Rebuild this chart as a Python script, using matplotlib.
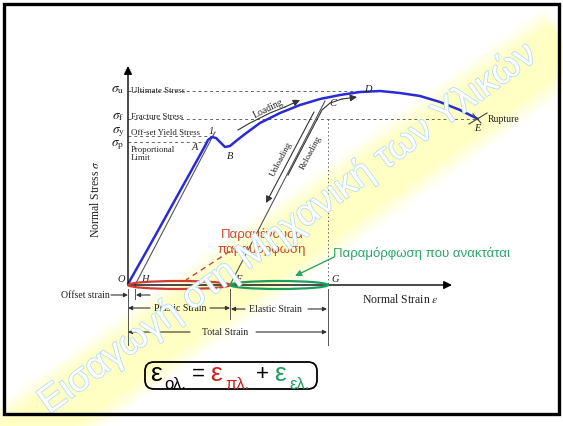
import numpy as np
import matplotlib
matplotlib.use('Agg')
import matplotlib.pyplot as plt
from matplotlib.patches import Ellipse, FancyBboxPatch, Rectangle
import matplotlib.patheffects as pe

# everything below is in pixel units of the original slide (x right, y down)
W, H = 563, 427

# stress-strain curve O -> A -> 1 -> B -> C -> D -> E
curve_x = [128, 150, 170, 190, 205, 208, 212, 216, 220, 225, 230, 236, 245, 260, 280, 300, 320, 340, 360, 380, 400, 420, 440, 460, 478]
curve_y = [285, 246, 210, 174, 147, 141, 138, 139, 143, 148, 147, 142, 135, 124, 114, 106, 100, 96, 93, 92, 94, 97, 103, 111, 120]

# loading arrow just above the curve
load_x = [238, 250, 260, 270, 285, 300]
load_y = [131, 124, 119, 114, 108, 101]

# stress levels (y) and where their dashed guide ends (x)
stress_sym = [r'$\sigma_\mathrm{u}$', r'$\sigma_\mathrm{f}$', r'$\sigma_\mathrm{y}$', r'$\sigma_\mathrm{p}$']
stress_txt = ['Ultimate Stress', 'Fracture Stress', 'Off-set Yield Stress', 'Proportional\nLimit']
stress_y = [92, 120, 137, 143]
stress_end = [368, 478, 211, 205]
stress_sym_y = [90, 117, 132, 145]
stress_txt_y = [91, 117, 133, 154]

# point labels
pt_names = ['O', 'H', 'A', '1', 'B', 'C', 'D', 'E', 'F', 'G']
pt_x = [121, 145, 195, 211, 230, 333, 368, 477, 238, 335]
pt_y = [280, 280, 148, 132, 157, 103, 89, 129, 280, 280]

# strain marks on the axis
x_origin, x_offset, x_plastic, x_total = 128, 135, 230, 328
y_axis = 286

serif = 'Liberation Serif'
sans = 'Liberation Sans'
plt.rcParams['mathtext.fontset'] = 'stix'

fig = plt.figure(figsize=(5.63, 4.27), dpi=100)
ax = fig.add_axes([0, 0, 1, 1])
ax.set_xlim(0, W)
ax.set_ylim(H, 0)
ax.axis('off')

# yellow watermark band
yy, xx = np.mgrid[0:H, 0:W] + 0.5
ang = np.deg2rad(36)
cx, cy = 294, 240
t = (xx - cx) * np.cos(ang) - (yy - cy) * np.sin(ang)
d = (xx - cx) * np.sin(ang) + (yy - cy) * np.cos(ang)
alpha = np.clip((42 - np.abs(d)) / 20, 0, 1) * np.clip((340 - t) / 8, 0, 1) * 0.42
band = np.zeros((H, W, 4))
band[..., 0] = 1.0
band[..., 1] = 1.0
band[..., 2] = 0.45
band[..., 3] = alpha
ax.imshow(band, extent=(0, W, H, 0), zorder=0, interpolation='bilinear')

def arrow(x0, y0, x1, y1, color='#333333', lw=0.8, ms=7):
    ax.annotate('', xy=(x1, y1), xytext=(x0, y0),
                arrowprops=dict(arrowstyle='-|>', color=color, lw=lw,
                                mutation_scale=ms, shrinkA=0, shrinkB=0))

# axes
arrow(x_origin, y_axis, 452, y_axis, color='black', lw=1.0, ms=12)
arrow(x_origin, y_axis, x_origin, 67, color='black', lw=1.0, ms=12)

# dashed stress guides and labels
for s, tx, y, xe, sy, ty in zip(stress_sym, stress_txt, stress_y, stress_end, stress_sym_y, stress_txt_y):
    ax.plot([x_origin, xe], [y, y], color='#666666', lw=0.7, ls=(0, (3, 3)))
    ax.text(118, sy, s, fontsize=9.5, ha='center', va='center', color='#222222')
    ax.text(131, ty, tx, fontsize=6.3, family=serif, ha='left', va='center',
            color='#222222', linespacing=1.1)

# vertical dotted line at G
ax.plot([x_total, x_total], [120, y_axis], color='#666666', lw=0.7, ls=(0, (1.5, 2.5)))

# offset line and unloading path
ax.plot([x_offset, 215], [y_axis, 133], color='#555555', lw=0.8)
ax.plot([x_plastic, 325], [y_axis, 102], color='#555555', lw=0.8)

# unloading / reloading arrows
arrow(314, 113, 266, 204, color='#333333', lw=0.8, ms=10)
ax.plot([288, 322, 330, 342], [176, 111, 104, 100], color='#333333', lw=0.8)
arrow(342, 100, 357, 98, color='#333333', lw=0.8, ms=10)
ax.text(281, 159, 'Unloading', rotation=62, fontsize=6.5, family=serif,
        ha='center', va='center', color='#222222')
ax.text(311, 153, 'Reloading', rotation=62, fontsize=6.5, family=serif,
        ha='center', va='center', color='#222222')

# loading arrow
ax.plot(load_x[:-1], load_y[:-1], color='#333333', lw=0.8)
arrow(load_x[-2], load_y[-2], load_x[-1], load_y[-1], color='#333333', lw=0.8, ms=10)
ax.text(268, 109, 'Loading', rotation=26, fontsize=7, family=serif,
        ha='center', va='center', color='#222222')

# stress-strain curve
ax.plot(curve_x, curve_y, color='#2a2ad6', lw=1.8, solid_capstyle='round')

# rupture mark
ax.plot([469, 487], [125, 114], color='#444444', lw=0.8)
ax.plot([473, 481], [115, 124], color='#444444', lw=0.8)
ax.text(488, 120, 'Rupture', fontsize=7, family=serif, ha='left', va='center', color='#222222')

for n, px, py in zip(pt_names, pt_x, pt_y):
    ax.text(px, py, n, fontsize=7.5, family=serif, style='italic',
            ha='center', va='center', color='#222222')

# axis titles
ax.text(95, 199, r'Normal Stress $\sigma$', rotation=90, fontsize=8.5, family=serif,
        ha='center', va='center', color='#222222')
ax.text(400, 300, r'Normal Strain $\varepsilon$', fontsize=8.5, family=serif,
        ha='center', va='center', color='#222222')

# strain dimension lines below the axis
ax.plot([x_origin, x_origin], [290, 346], color='#555555', lw=0.7)
ax.plot([x_offset, x_offset], [290, 300], color='#555555', lw=0.7)
ax.plot([x_plastic, x_plastic], [290, 320], color='#555555', lw=0.7)
ax.plot([x_total, x_total], [290, 346], color='#555555', lw=0.7)

ax.text(110, 296, 'Offset strain', fontsize=7, family=serif, ha='right', va='center', color='#222222')
arrow(111, 296, x_origin, 296, ms=6)
arrow(150, 296, x_offset + 1, 296, ms=6)

arrow(150, 309, x_origin, 309, ms=6)
ax.text(180, 309, 'Plastic Strain', fontsize=7, family=serif, ha='center', va='center', color='#222222')
arrow(210, 309, x_plastic, 309, ms=6)

arrow(245, 310, x_plastic + 1, 310, ms=6)
ax.text(275, 310, 'Elastic Strain', fontsize=7, family=serif, ha='center', va='center', color='#222222')
arrow(308, 310, x_total - 1, 310, ms=6)

arrow(190, 333, x_origin, 333, ms=6)
ax.text(225, 333, 'Total Strain', fontsize=7, family=serif, ha='center', va='center', color='#222222')
arrow(256, 333, x_total - 1, 333, ms=6)

# plastic / elastic ellipses
ax.add_patch(Ellipse(((x_origin + x_plastic) / 2, y_axis), x_plastic - x_origin, 8,
                     fill=False, ec='#d23a32', lw=1.6, zorder=4))
ax.add_patch(Ellipse(((x_plastic + x_total) / 2, y_axis), x_total - x_plastic, 8,
                     fill=False, ec='#1e9e5e', lw=1.6, zorder=4))

# greek callouts
ax.text(262, 242, 'Παραμένουσα\nπαραμόρφωση', fontsize=9.5, family=sans, ha='center',
        va='center', color='#c84a34', linespacing=1.25)
ax.plot([238, 186], [247, 281], color='#c84a34', lw=1.0, ls=(0, (4, 3)))
ax.text(333, 253, 'Παραμόρφωση που ανακτάται', fontsize=9.5, family=sans, ha='left',
        va='center', color='#2aa66a')
arrow(334, 258, 295, 277, color='#2aa66a', lw=1.0, ms=9)

# formula box
ax.add_patch(FancyBboxPatch((145, 363), 172, 27, boxstyle='round,pad=0,rounding_size=9',
                            fill=False, ec='black', lw=1.3, zorder=5))
parts = [('ε', 150, 381, 19, 'black'), ('ολ.', 164, 389, 12, 'black'),
         ('=', 192, 380, 16, 'black'),
         ('ε', 210, 381, 19, '#d0201c'), ('πλ.', 225, 389, 12, '#d0201c'),
         ('+', 256, 380, 16, 'black'),
         ('ε', 274, 381, 19, '#1e9e5e'), ('ελ.', 289, 389, 12, '#1e9e5e')]
for s, px, py, fs, c in parts:
    ax.text(px, py, s, fontsize=fs, family=sans, ha='left', va='baseline', color=c, zorder=6)

# watermark text
ax.text(287, 229, 'Εισαγωγή στη Μηχανική των Υλικών', rotation=36, fontsize=27,
        family=sans, ha='center', va='center', color='white', zorder=10,
        path_effects=[pe.withStroke(linewidth=1.2, foreground='#b4ddf5')])

# slide frame
fig.patches.append(Rectangle((4 / W, 1 - 415 / H), 555 / W, 410 / H, transform=fig.transFigure,
                             fill=False, ec='black', lw=2.4))

fig.savefig('out.png', dpi=100)
